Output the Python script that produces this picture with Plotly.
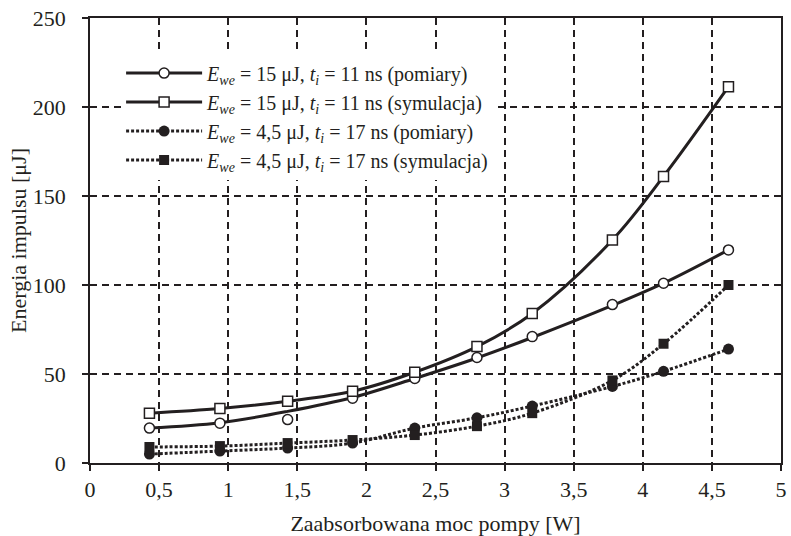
import plotly.graph_objects as go

# ---- data ----
x_pts = [0.43, 0.94, 1.43, 1.90, 2.35, 2.80, 3.20, 3.78, 4.15, 4.62]

e15_meas = [19.6, 22.4, 24.4, 36.4, 47.5, 59.3, 71.0, 89.0, 101.0, 119.7]
e15_meas_trend = [19.6, 22.6, 29.0, 36.8, 47.5, 59.0, 70.5, 88.5, 101.0, 119.7]
e15_sim = [28.0, 30.6, 34.7, 40.3, 51.0, 65.4, 84.0, 125.3, 161.0, 211.4]
e45_meas = [5.0, 6.7, 8.4, 11.2, 19.6, 25.4, 32.0, 43.0, 51.5, 64.0]
e45_sim = [9.0, 9.5, 11.2, 12.9, 15.7, 20.7, 28.0, 46.4, 67.0, 100.0]

names = [
    "<i>E</i><sub><i>we</i></sub> = 15 μJ, <i>t</i><sub><i>i</i></sub> = 11 ns (pomiary)",
    "<i>E</i><sub><i>we</i></sub> = 15 μJ, <i>t</i><sub><i>i</i></sub> = 11 ns (symulacja)",
    "<i>E</i><sub><i>we</i></sub> = 4,5 μJ, <i>t</i><sub><i>i</i></sub> = 17 ns (pomiary)",
    "<i>E</i><sub><i>we</i></sub> = 4,5 μJ, <i>t</i><sub><i>i</i></sub> = 17 ns (symulacja)",
]

x_tickvals = [0, 0.5, 1, 1.5, 2, 2.5, 3, 3.5, 4, 4.5, 5]
x_ticktext = ["0", "0,5", "1", "1,5", "2", "2,5", "3", "3,5", "4", "4,5", "5"]
y_tickvals = [0, 50, 100, 150, 200, 250]

x_title = "Zaabsorbowana moc pompy [W]"
y_title = "Energia impulsu [μJ]"

# ---- styling ----
INK = "#231f20"
FONT = "Liberation Serif"
FS = 22
LW = 3
DOT = "3px,2px"

fig = go.Figure()

# 15 uJ measurements: trend line + open circles
fig.add_trace(go.Scatter(x=x_pts, y=e15_meas_trend, mode="lines",
                         line=dict(color=INK, width=LW, shape="spline"),
                         showlegend=False, hoverinfo="skip"))
fig.add_trace(go.Scatter(x=x_pts, y=e15_meas, mode="markers",
                         marker=dict(symbol="circle", size=10, color="white",
                                     line=dict(color=INK, width=1.5)),
                         showlegend=False))
# 15 uJ simulation
fig.add_trace(go.Scatter(x=x_pts, y=e15_sim, mode="lines+markers",
                         line=dict(color=INK, width=LW, shape="spline"),
                         marker=dict(symbol="square", size=10, color="white",
                                     line=dict(color=INK, width=1.5)),
                         showlegend=False))
# 4.5 uJ measurements
fig.add_trace(go.Scatter(x=x_pts, y=e45_meas, mode="lines+markers",
                         line=dict(color=INK, width=LW, shape="spline", dash=DOT),
                         marker=dict(symbol="circle", size=11, color=INK),
                         showlegend=False))
# 4.5 uJ simulation
fig.add_trace(go.Scatter(x=x_pts, y=e45_sim, mode="lines+markers",
                         line=dict(color=INK, width=LW, shape="spline", dash=DOT),
                         marker=dict(symbol="square", size=10, color=INK),
                         showlegend=False))

# legend entries
leg_styles = [
    dict(line=dict(color=INK, width=LW), marker=dict(symbol="circle", size=10, color="white", line=dict(color=INK, width=1.5))),
    dict(line=dict(color=INK, width=LW), marker=dict(symbol="square", size=10, color="white", line=dict(color=INK, width=1.5))),
    dict(line=dict(color=INK, width=LW, dash=DOT), marker=dict(symbol="circle", size=11, color=INK)),
    dict(line=dict(color=INK, width=LW, dash=DOT), marker=dict(symbol="square", size=10, color=INK)),
]
for nm, st in zip(names, leg_styles):
    fig.add_trace(go.Scatter(x=[None], y=[None], mode="lines+markers", name=nm, **st))

axis_common = dict(
    showline=True, linecolor=INK, linewidth=1.5, mirror=True,
    ticks="outside", ticklen=6, tickwidth=1.5, tickcolor=INK,
    showgrid=True, gridcolor=INK, gridwidth=1.8, griddash="7px,5px",
    zeroline=False,
    tickfont=dict(family=FONT, size=FS, color=INK),
)

fig.update_xaxes(range=[0, 5], tickvals=x_tickvals, ticktext=x_ticktext,
                 title=dict(text=x_title, font=dict(family=FONT, size=FS, color=INK), standoff=14),
                 **axis_common)
fig.update_yaxes(range=[0, 250], tickvals=y_tickvals, ticklabelstandoff=12,
                 title=dict(text=y_title, font=dict(family=FONT, size=FS, color=INK), standoff=0),
                 **axis_common)

fig.update_layout(
    width=791, height=536,
    margin=dict(l=90, r=4, t=18, b=71),
    plot_bgcolor="white", paper_bgcolor="white",
    font=dict(family=FONT, size=FS, color=INK),
    showlegend=True,
    legend=dict(x=0.045, y=0.92, xanchor="left", yanchor="top",
                bgcolor="white", borderwidth=0, itemwidth=76,
                font=dict(family=FONT, size=20, color=INK),
                tracegroupgap=0),
)

fig.write_html("out.html")
